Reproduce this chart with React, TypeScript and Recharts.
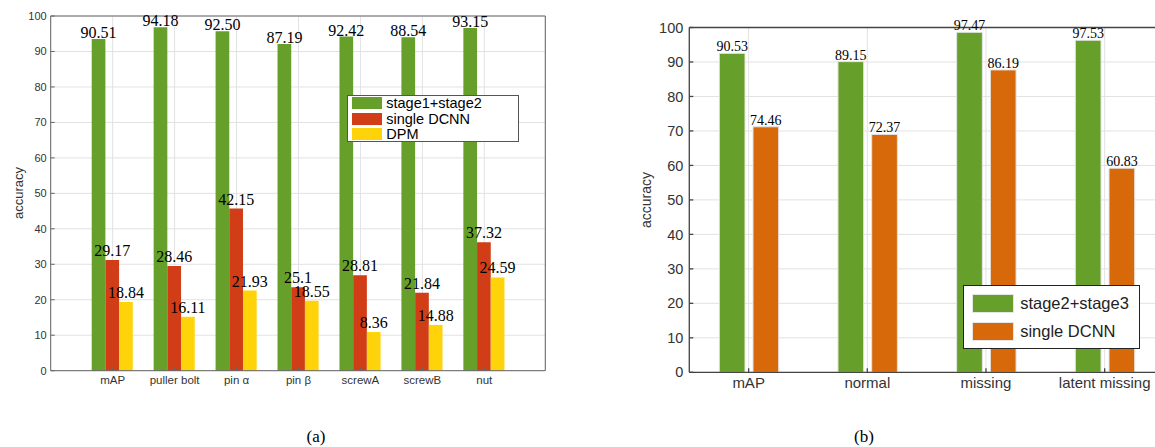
import React from 'react';
import { BarChart, Bar, XAxis, YAxis, CartesianGrid, LabelList, Legend } from 'recharts';

const categoriesA = ['mAP', 'puller bolt', 'pin α', 'pin β', 'screwA', 'screwB', 'nut'];
const seriesNamesA = ['stage1+stage2', 'single DCNN', 'DPM'];
const stage12 = [93.5, 96.8, 95.7, 92.1, 94.2, 94.0, 96.6];
const dcnnA = [31.2, 29.5, 45.7, 23.5, 26.9, 22.0, 36.2];
const dpm = [19.4, 15.2, 22.6, 19.7, 10.9, 12.9, 26.3];
const stage12Labels = ['90.51', '94.18', '92.50', '87.19', '92.42', '88.54', '93.15'];
const dcnnALabels = ['29.17', '28.46', '42.15', '25.1', '28.81', '21.84', '37.32'];
const dpmLabels = ['18.84', '16.11', '21.93', '18.55', '8.36', '14.88', '24.59'];

const categoriesB = ['mAP', 'normal', 'missing', 'latent missing'];
const seriesNamesB = ['stage2+stage3', 'single DCNN'];
const stage23 = [92.5, 90.1, 98.6, 96.3];
const dcnnB = [71.2, 69.0, 87.7, 59.2];
const stage23Labels = ['90.53', '89.15', '97.47', '97.53'];
const dcnnBLabels = ['74.46', '72.37', '86.19', '60.83'];

const yTicks = [0, 10, 20, 30, 40, 50, 60, 70, 80, 90, 100];

const dataA = categoriesA.map((cat, i) => ({
  cat,
  s12: stage12[i],
  dcnn: dcnnA[i],
  dpm: dpm[i],
  s12L: stage12Labels[i],
  dcnnL: dcnnALabels[i],
  dpmL: dpmLabels[i],
}));

const dataB = categoriesB.map((cat, i) => ({
  cat,
  s23: stage23[i],
  dcnn: dcnnB[i],
  s23L: stage23Labels[i],
  dcnnL: dcnnBLabels[i],
}));

const SANS = '"Liberation Sans", Arial, Helvetica, sans-serif';
const SERIF = '"Liberation Serif", "Times New Roman", serif';

const GREEN = '#66a02a';
const RED = '#d13d17';
const YELLOW = '#ffd30a';
const ORANGE = '#d7690a';
const AXIS = '#666';
const GRID = '#e2e2e2';

const ordered = (payload: any[], names: string[]) =>
  [...(payload || [])].sort((a, b) => names.indexOf(a.value) - names.indexOf(b.value));

const LegendA = (props: any) => {
  const payload = ordered(props.payload, seriesNamesA);
  return (
    <div
      style={{
        width: 172.6,
        height: 47.3,
        boxSizing: 'border-box',
        border: '1px solid #555',
        background: '#fff',
        position: 'relative',
      }}
    >
      {payload.map((p: any, i: number) => (
        <div
          key={i}
          style={{
            position: 'absolute',
            left: 4.6,
            top: 1.3 + i * 15.3,
            height: 12,
            display: 'flex',
            alignItems: 'center',
            whiteSpace: 'nowrap',
          }}
        >
          <span style={{ display: 'inline-block', width: 29.7, height: 12, background: p.color }} />
          <span style={{ marginLeft: 4.3, fontSize: 14.5, fontFamily: SANS, color: '#000', lineHeight: '12px' }}>
            {p.value}
          </span>
        </div>
      ))}
    </div>
  );
};

const LegendB = (props: any) => {
  const payload = ordered(props.payload, seriesNamesB);
  return (
    <div
      style={{
        width: 176.7,
        height: 64.3,
        boxSizing: 'border-box',
        border: '1.5px solid #222',
        background: '#fff',
        position: 'relative',
      }}
    >
      {payload.map((p: any, i: number) => (
        <div
          key={i}
          style={{
            position: 'absolute',
            left: 7.5,
            top: 7.5 + i * 28.3,
            height: 19,
            display: 'flex',
            alignItems: 'center',
            whiteSpace: 'nowrap',
          }}
        >
          <span
            style={{
              display: 'inline-block',
              width: 42.7,
              height: 19,
              boxSizing: 'border-box',
              border: '1px solid #e6e6e6',
              background: p.color,
            }}
          />
          <span style={{ marginLeft: 5.7, fontSize: 16.5, fontFamily: SANS, color: '#222', lineHeight: '19px' }}>
            {p.value}
          </span>
        </div>
      ))}
    </div>
  );
};

const rotated = (left: number, top: number, size: number): React.CSSProperties => ({
  position: 'absolute',
  left,
  top,
  transform: 'translate(-50%, -50%) rotate(-90deg)',
  fontFamily: SANS,
  fontSize: size,
  color: '#333',
  whiteSpace: 'nowrap',
});

export default function App() {
  return (
    <div
      style={{
        position: 'absolute',
        left: 0,
        top: 0,
        width: 1155,
        height: 447,
        overflow: 'hidden',
        background: '#fff',
      }}
    >
      <div style={{ position: 'absolute', left: 0, top: 0 }}>
        <BarChart
          width={560}
          height={447}
          data={dataA}
          margin={{ top: 15, right: 13.7, bottom: 46.3, left: 0 }}
          barGap={0}
          barSize={13.7}
        >
          <CartesianGrid stroke={GRID} strokeWidth={1} />
          <XAxis
            dataKey="cat"
            height={30}
            padding={{ left: 31, right: 30 }}
            stroke={AXIS}
            tickSize={-4}
            tickMargin={9}
            interval={0}
            tick={{ fontSize: 11.5, fontFamily: SANS, fill: '#333' }}
          />
          <XAxis
            xAxisId="top"
            orientation="top"
            dataKey="cat"
            height={1}
            padding={{ left: 31, right: 30 }}
            stroke={AXIS}
            tickSize={-4}
            tick={false}
            interval={0}
          />
          <YAxis
            width={50.7}
            domain={[0, 100]}
            ticks={yTicks}
            stroke={AXIS}
            tickSize={-4}
            tickMargin={8}
            interval={0}
            tick={{ fontSize: 11, fontFamily: SANS, fill: '#333' }}
          />
          <YAxis
            yAxisId="right"
            orientation="right"
            width={1}
            domain={[0, 100]}
            ticks={yTicks}
            stroke={AXIS}
            tickSize={-4}
            tick={false}
            interval={0}
          />
          <Legend
            layout="horizontal"
            verticalAlign="middle"
            align="center"
            width={173}
            itemSorter={null as any}
            wrapperStyle={{ left: 346.7, top: 95, width: 173 }}
            content={LegendA}
          />
          <Bar dataKey="s12" name="stage1+stage2" fill={GREEN} isAnimationActive={false}>
            <LabelList dataKey="s12L" position="top" offset={1} fill="#000" fontSize={16} fontFamily={SERIF} />
          </Bar>
          <Bar dataKey="dcnn" name="single DCNN" fill={RED} isAnimationActive={false}>
            <LabelList dataKey="dcnnL" position="top" offset={4} fill="#000" fontSize={16} fontFamily={SERIF} />
          </Bar>
          <Bar dataKey="dpm" name="DPM" fill={YELLOW} isAnimationActive={false}>
            <LabelList dataKey="dpmL" position="top" offset={4} fill="#000" fontSize={16} fontFamily={SERIF} />
          </Bar>
        </BarChart>
      </div>

      <div style={{ position: 'absolute', left: 600, top: 0 }}>
        <BarChart
          width={600}
          height={447}
          data={dataB}
          margin={{ top: 26.5, right: 35, bottom: 44.7, left: 0 }}
          barGap={8}
          barSize={25.7}
        >
          <CartesianGrid stroke={GRID} strokeWidth={1} />
          <XAxis
            dataKey="cat"
            height={30}
            stroke="#444"
            strokeWidth={1.3}
            tickSize={-4}
            tickMargin={9.5}
            interval={0}
            tick={{ fontSize: 15, fontFamily: SANS, fill: '#333' }}
          />
          <XAxis
            xAxisId="top"
            orientation="top"
            dataKey="cat"
            height={1}
            stroke="#444"
            strokeWidth={1.3}
            tickSize={-4}
            tick={false}
            interval={0}
          />
          <YAxis
            width={89.3}
            domain={[0, 100]}
            ticks={yTicks}
            stroke="#444"
            strokeWidth={1.3}
            tickSize={-4}
            tickMargin={10}
            interval={0}
            tick={{ fontSize: 14.5, fontFamily: SANS, fill: '#333' }}
          />
          <YAxis
            yAxisId="right"
            orientation="right"
            width={1}
            domain={[0, 100]}
            ticks={yTicks}
            stroke="#444"
            tickSize={-4}
            tick={false}
            interval={0}
          />
          <Legend
            layout="horizontal"
            verticalAlign="middle"
            align="center"
            width={177}
            itemSorter={null as any}
            wrapperStyle={{ left: 363.3, top: 285, width: 177 }}
            content={LegendB}
          />
          <Bar dataKey="s23" name="stage2+stage3" fill={GREEN} stroke="#e4e4e4" strokeWidth={1} isAnimationActive={false}>
            <LabelList dataKey="s23L" position="top" offset={2} fill="#000" fontSize={14} fontFamily={SERIF} />
          </Bar>
          <Bar dataKey="dcnn" name="single DCNN" fill={ORANGE} stroke="#e4e4e4" strokeWidth={1} isAnimationActive={false}>
            <LabelList dataKey="dcnnL" position="top" offset={2} fill="#000" fontSize={14} fontFamily={SERIF} />
          </Bar>
        </BarChart>
      </div>

      <div style={rotated(17.7, 193.3, 13)}>accuracy</div>
      <div style={rotated(646, 200, 14)}>accuracy</div>

      <div
        style={{
          position: 'absolute',
          left: 316,
          top: 437,
          transform: 'translate(-50%, -50%)',
          fontFamily: SERIF,
          fontSize: 17,
          color: '#000',
        }}
      >
        (a)
      </div>
      <div
        style={{
          position: 'absolute',
          left: 864,
          top: 437,
          transform: 'translate(-50%, -50%)',
          fontFamily: SERIF,
          fontSize: 17,
          color: '#000',
        }}
      >
        (b)
      </div>
    </div>
  );
}
